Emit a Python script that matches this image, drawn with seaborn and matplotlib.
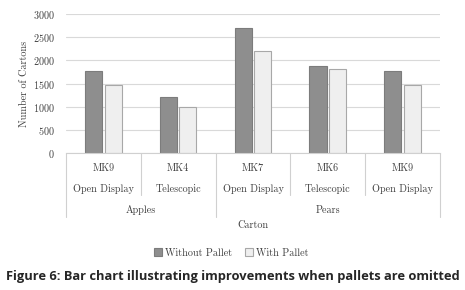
import matplotlib
matplotlib.use('Agg')
import matplotlib.pyplot as plt
import matplotlib.transforms as mtransforms
import numpy as np
import pandas as pd
import seaborn as sns

# data
fruits = ['Apples', 'Apples', 'Pears', 'Pears', 'Pears']
cartons = ['MK9', 'MK4', 'MK7', 'MK6', 'MK9']
designs = ['Open Display', 'Telescopic', 'Open Display', 'Telescopic', 'Open Display']
without_pallet = [1760, 1200, 2700, 1880, 1760]
with_pallet = [1460, 1000, 2200, 1820, 1460]
series = ['Without Pallet', 'With Pallet']

keys = [f'{f} {c}' for f, c in zip(fruits, cartons)]
df = pd.DataFrame({
    'key': keys * 2,
    'series': [series[0]] * len(keys) + [series[1]] * len(keys),
    'value': without_pallet + with_pallet,
})

sns.set_style('white')
plt.rcParams['font.family'] = ['cmr10', 'DejaVu Serif']
plt.rcParams['axes.formatter.use_mathtext'] = True

fig = plt.figure(figsize=(4.65, 2.9), dpi=100)
ax = fig.add_axes([0.142, 0.472, 0.804, 0.48])

sns.barplot(data=df, x='key', y='value', hue='series', order=keys,
            hue_order=series, palette=['#8e8e8e', '#efefef'],
            width=0.52, gap=0.12, ax=ax, legend=False)
edge = ['#7c7c7c', '#a8a8a8']
for cont, ec in zip(ax.containers, edge):
    for bar in cont:
        bar.set_edgecolor(ec)
        bar.set_linewidth(0.8)

ax.set_ylim(0, 3000)
ax.set_yticks(np.arange(0, 3001, 500))
ax.set_xlim(-0.5, len(keys) - 0.5)
ax.yaxis.grid(True, color='#d9d9d9', lw=0.8)
ax.set_axisbelow(True)
for s in ['top', 'right', 'left']:
    ax.spines[s].set_visible(False)
ax.spines['bottom'].set_color('#d0d0d0')
ax.tick_params(axis='y', length=0, pad=8, labelsize=7.3, labelcolor='#404040')
ax.set_xticks([])
ax.set_xlabel('')
ax.set_ylabel('Number of Cartons', fontsize=7.3, color='#404040', labelpad=3)

# multi-level category axis
tr = mtransforms.blended_transform_factory(ax.transData, ax.transAxes)
for i in range(len(keys)):
    ax.text(i, -0.108, cartons[i], transform=tr, ha='center', va='center',
            fontsize=7.3, color='#404040')
    ax.text(i, -0.259, designs[i], transform=tr, ha='center', va='center',
            fontsize=7.3, color='#404040')
lc = '#d0d0d0'
for i in range(len(keys) + 1):
    x = i - 0.5
    group_edge = i == 0 or i == len(keys) or fruits[i] != fruits[i - 1]
    y1 = -0.46 if group_edge else -0.30
    ax.plot([x, x], [0, y1], transform=tr, color=lc, lw=0.8, clip_on=False)
for fr in dict.fromkeys(fruits):
    idx = [i for i, f in enumerate(fruits) if f == fr]
    ax.text(np.mean(idx), -0.41, fr, transform=tr, ha='center', va='center',
            fontsize=7.3, color='#404040')
ax.text(0.5, -0.52, 'Carton', transform=ax.transAxes, ha='center', va='center',
        fontsize=7.3, color='#404040')

handles = [plt.Rectangle((0, 0), 1, 1, fc=fc, ec=ec, lw=0.8)
           for fc, ec in zip(['#8e8e8e', '#efefef'], edge)]
fig.legend(handles, series, loc='center', bbox_to_anchor=(0.497, 0.128),
           ncol=2, frameon=False, fontsize=7.3, handlelength=0.8,
           handleheight=0.8, handletextpad=0.3, columnspacing=1.2,
           labelcolor='#404040')

fig.text(0.5, 0.045, 'Figure 6: Bar chart illustrating improvements when pallets are omitted',
         ha='center', va='center', fontsize=9.3, fontweight='bold',
         family=['Open Sans', 'DejaVu Sans'])

fig.savefig('out.png', dpi=100)
